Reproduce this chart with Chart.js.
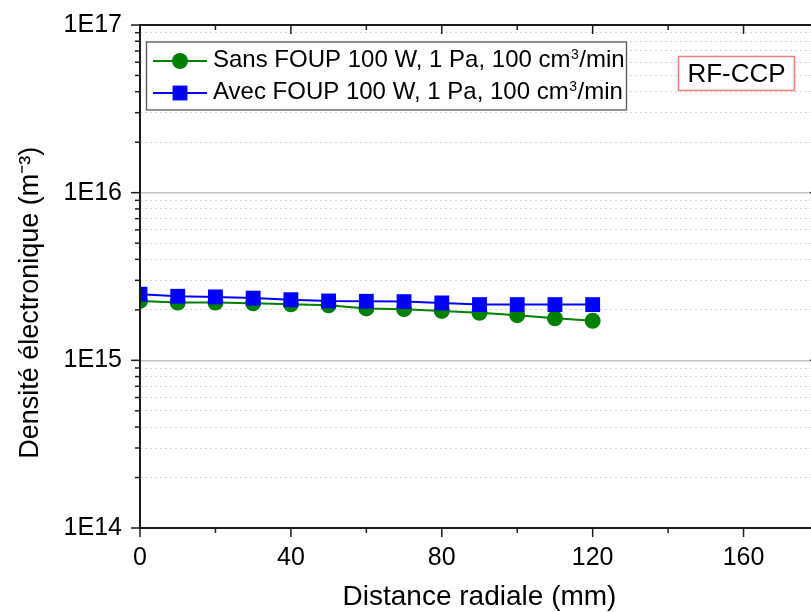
<!DOCTYPE html>
<html><head><meta charset="utf-8">
<script src="https://cdn.jsdelivr.net/npm/chart.js@4/dist/chart.umd.min.js"></script>
<style>
html,body{margin:0;padding:0;background:#fff;overflow:hidden}
#wrap{width:811px;height:612px;overflow:hidden;position:relative;background:#fff}
canvas{display:block}
</style></head>
<body><div id="wrap"><canvas id="c" width="830" height="612"></canvas></div>
<script>
// ---- data ----
const radialDistance = [0, 10, 20, 30, 40, 50, 60, 70, 80, 90, 100, 110, 120];
const sansFoup = [2.26e15, 2.21e15, 2.21e15, 2.19e15, 2.16e15, 2.13e15, 2.04e15, 2.02e15, 1.97e15, 1.92e15, 1.86e15, 1.78e15, 1.72e15];
const avecFoup = [2.48e15, 2.41e15, 2.39e15, 2.35e15, 2.30e15, 2.26e15, 2.25e15, 2.24e15, 2.20e15, 2.15e15, 2.15e15, 2.15e15, 2.15e15];
const seriesLabels = ['Sans FOUP 100 W, 1 Pa, 100 cm³/min', 'Avec FOUP 100 W, 1 Pa, 100 cm³/min'];
const yDecades = [1e14, 1e15, 1e16, 1e17];
const yDecadeLabels = ['1E14', '1E15', '1E16', '1E17'];
const xMajorTicks = [0, 40, 80, 120, 160];
const xTitle = 'Distance radiale (mm)';
const yTitle = 'Densité électronique (m⁻³)';
const annotationText = 'RF-CCP';

const FONT = '"Liberation Sans", Arial, sans-serif';
function isDecade(v){ const l = Math.log10(v); return Math.abs(l - Math.round(l)) < 1e-9; }
function decadeLabel(v){ const i = yDecades.findIndex(d => Math.abs(Math.log10(d) - Math.log10(v)) < 1e-9); return i >= 0 ? yDecadeLabels[i] : ''; }
const yTickValues = [];
for (let i = 0; i < yDecades.length; i++) {
  if (i === yDecades.length - 1) { yTickValues.push(yDecades[i]); break; }
  for (let m = 1; m <= 9; m++) yTickValues.push(m * yDecades[i]);
}

const colors = ['#008000', '#0000ff'];
const styles = ['circle', 'rect'];
const radii = [8, 10.5];

const framePlugin = {
  id: 'frame',
  afterDraw(chart) {
    const ctx = chart.ctx;
    const {left: L, right: R, top: T, bottom: B} = chart.chartArea;
    const xs = chart.scales.x, ys = chart.scales.y;
    ctx.save();
    ctx.strokeStyle = '#1a1a1a';
    ctx.lineWidth = 1.5;
    const seg = (a, b, c, d) => { ctx.beginPath(); ctx.moveTo(a, b); ctx.lineTo(c, d); ctx.stroke(); };
    ys.ticks.forEach(t => {
      const p = ys.getPixelForValue(t.value);
      const len = isDecade(t.value) ? 9 : 5;
      seg(L - len, p, L, p);
      seg(R, p, R - len, p);
    });
    xs.ticks.forEach(t => {
      const p = xs.getPixelForValue(t.value);
      const len = xMajorTicks.includes(t.value) ? 9 : 5;
      seg(p, B, p, B + len);
      seg(p, T, p, T + len);
    });
    ctx.lineWidth = 2;
    ctx.strokeRect(L, T, R - L, B - T);

    // legend box
    ctx.fillStyle = '#fff';
    ctx.fillRect(146.5, 42, 480, 68);
    ctx.strokeStyle = '#555';
    ctx.lineWidth = 1.3;
    ctx.strokeRect(146.5, 42, 480, 68);
    const rowsY = [61, 93];
    const baseY = [66.7, 99];
    seriesLabels.forEach((lab, i) => {
      const y = rowsY[i];
      ctx.strokeStyle = colors[i];
      ctx.lineWidth = 2;
      seg(153, y, 207, y);
      ctx.fillStyle = colors[i];
      if (styles[i] === 'circle') { ctx.beginPath(); ctx.arc(180, y, radii[i], 0, Math.PI * 2); ctx.fill(); }
      else { const s = radii[i] * Math.SQRT1_2; ctx.fillRect(180 - s, y - s, 2 * s, 2 * s); }
      ctx.fillStyle = '#000';
      ctx.textAlign = 'left';
      ctx.textBaseline = 'alphabetic';
      const parts = lab.split('³');
      let x = 213;
      ctx.font = '24px ' + FONT;
      ctx.fillText(parts[0], x, baseY[i]);
      x += ctx.measureText(parts[0]).width + 0.5;
      ctx.font = '14px ' + FONT;
      ctx.fillText('3', x, baseY[i] - 8);
      x += ctx.measureText('3').width + 0.5;
      ctx.font = '24px ' + FONT;
      ctx.fillText(parts[1], x, baseY[i]);
    });

    // RF-CCP annotation
    ctx.fillStyle = '#fff';
    ctx.fillRect(678.5, 56.5, 116, 34);
    ctx.strokeStyle = '#f08080';
    ctx.lineWidth = 1.5;
    ctx.strokeRect(678.5, 56.5, 116, 34);
    ctx.fillStyle = '#000';
    ctx.font = '26px ' + FONT;
    ctx.textAlign = 'center';
    ctx.textBaseline = 'middle';
    ctx.fillText(annotationText, 736.5, 74.5);
    ctx.restore();
  }
};

new Chart(document.getElementById('c'), {
  type: 'line',
  data: {
    datasets: [
      { label: seriesLabels[0], data: radialDistance.map((x, i) => ({x, y: sansFoup[i]})),
        borderColor: colors[0], backgroundColor: colors[0], pointBackgroundColor: colors[0], pointBorderColor: colors[0],
        pointStyle: styles[0], pointRadius: radii[0], pointBorderWidth: 0, borderWidth: 2, tension: 0, order: 1 },
      { label: seriesLabels[1], data: radialDistance.map((x, i) => ({x, y: avecFoup[i]})),
        borderColor: colors[1], backgroundColor: colors[1], pointBackgroundColor: colors[1], pointBorderColor: colors[1],
        pointStyle: styles[1], pointRadius: radii[1], pointBorderWidth: 0, borderWidth: 2, tension: 0, order: 0 }
    ]
  },
  options: {
    responsive: false,
    animation: false,
    devicePixelRatio: 1,
    layout: { padding: { top: 25, right: 11, left: 0, bottom: 0 } },
    plugins: { legend: { display: false }, tooltip: { enabled: false } },
    scales: {
      x: {
        type: 'linear', min: 0, max: 180,
        ticks: { stepSize: 20, autoSkip: false, maxRotation: 0, padding: 15, color: '#000',
          font: { family: FONT, size: 25 },
          callback: v => xMajorTicks.includes(v) ? String(v) : '' },
        grid: { display: false, drawTicks: false },
        border: { display: false },
        title: { display: true, text: xTitle, color: '#000', font: { family: FONT, size: 28, lineHeight: 1 }, padding: { top: 0, bottom: 1 } },
        afterFit: s => { s.height = 84; s.paddingLeft = 0; s.paddingRight = 0; s.paddingTop = 0; s.paddingBottom = 0; }
      },
      y: {
        type: 'logarithmic', min: 1e14, max: 1e17,
        afterBuildTicks: s => { s.ticks = yTickValues.map(v => ({ value: v, major: isDecade(v) })); },
        ticks: { autoSkip: false, padding: 18, color: '#000', font: { family: FONT, size: 25 },
          callback: v => decadeLabel(v) },
        grid: { drawTicks: false,
          color: c => (c.tick && isDecade(c.tick.value)) ? '#c2c2c2' : '#d6d6d6',
          lineWidth: c => (c.tick && isDecade(c.tick.value)) ? 1.6 : 1 },
        border: { display: false, dash: c => (c.tick && !isDecade(c.tick.value)) ? [2, 3] : [] },
        title: { display: true, text: yTitle + '       ', color: '#000', font: { family: FONT, size: 27, lineHeight: 1.2 }, padding: { top: 14, bottom: 0 } },
        afterFit: s => { s.width = 140; s.paddingTop = 0; s.paddingBottom = 0; s.paddingLeft = 0; s.paddingRight = 0; }
      }
    }
  },
  plugins: [framePlugin]
});
</script>
</body></html>
